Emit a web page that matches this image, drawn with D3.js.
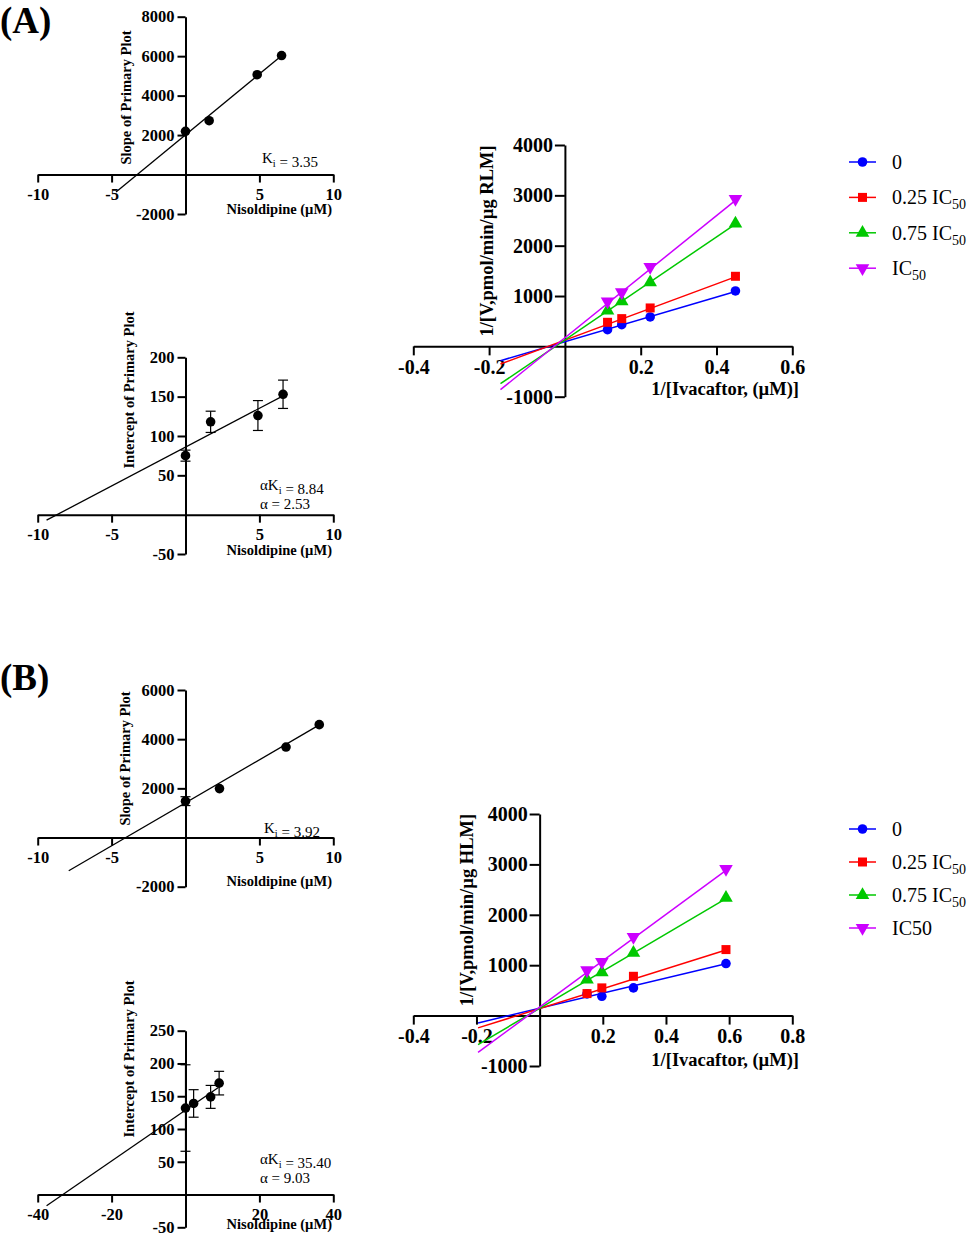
<!DOCTYPE html>
<html>
<head>
  <script src="https://d3js.org/d3.v7.min.js"></script>
  <style>
    body { margin: 0; background: #fff; }
    text { font-family: "Liberation Serif", "Times New Roman", serif; fill: #000; }
    .bold { font-weight: bold; }
  </style>
</head>
<body>
<div id="chart"></div>
<script>
/*
DATA
*/
// (A) secondary plots, RLM
const slopeA_x = [0, 1.6, 4.85, 6.5];
const slopeA_y = [2190, 2730, 5060, 6030];
const slopeA_fit = [[-4.7, -880], [6.6, 6080]];

const intA_x = [0, 1.7, 4.9, 6.6];
const intA_y = [75, 118, 126, 153];
const intA_err = [7, 13.5, 19, 18];
const intA_fit = [[-9.4, -7], [6.6, 151]];

// (B) secondary plots, HLM
const slopeB_x = [0, 2.3, 6.8, 9.05];
const slopeB_y = [1480, 1990, 3680, 4590];
const slopeB_err = [180, 0, 0, 0];
const slopeB_fit = [[-7.9, -1350], [9.2, 4630]];

const intB_x = [0, 2.2, 6.8, 9.1];
const intB_y = [132, 139, 149, 170];
const intB_err = [66, 21, 17.5, 18];
const intB_fit = [[-37.6, -17], [8.8, 163]];

// (A) Lineweaver-Burk, RLM
const lbA_x = [0.1125, 0.15, 0.225, 0.45];
const lbA_0 = [332, 431, 584, 1100];
const lbA_025 = [478, 551, 763, 1392];
const lbA_075 = [710, 895, 1272, 2440];
const lbA_1 = [895, 1074, 1579, 2930];
const lbA_fitX = [-0.17, 0.45];
const lbA_fit0 = [-284, 1090];
const lbA_fit025 = [-350, 1380];
const lbA_fit075 = [-742, 2430];
const lbA_fit1 = [-861, 2900];

// (B) Lineweaver-Burk, HLM
const lbB_x = [0.15, 0.197, 0.297, 0.59];
const lbB_0 = [430, 383, 550, 1032];
const lbB_025 = [437, 550, 780, 1310];
const lbB_075 = [714, 860, 1244, 2335];
const lbB_1 = [899, 1065, 1560, 2910];
const lbB_fitX = [-0.195, 0.59];
const lbB_fit0 = [-145, 1030];
const lbB_fit025 = [-244, 1300];
const lbB_fit075 = [-575, 2320];
const lbB_fit1 = [-728, 2880];

// legend labels [text, subscript]
const legendA = [["0", ""], ["0.25 IC", "50"], ["0.75 IC", "50"], ["IC", "50"]];
const legendB = [["0", ""], ["0.25 IC", "50"], ["0.75 IC", "50"], ["IC50", ""]];

// tick values
const ticksX10 = [-10, -5, 5, 10];
const ticksX40 = [-40, -20, 20, 40];
const ticksSlopeA_y = [-2000, 2000, 4000, 6000, 8000];
const ticksIntA_y = [-50, 50, 100, 150, 200];
const ticksSlopeB_y = [-2000, 2000, 4000, 6000];
const ticksIntB_y = [-50, 50, 100, 150, 200, 250];
const ticksLbA_x = [-0.4, -0.2, 0.2, 0.4, 0.6];
const ticksLbB_x = [-0.4, -0.2, 0.2, 0.4, 0.6, 0.8];
const ticksLb_y = [-1000, 1000, 2000, 3000, 4000];

/*
SVG CANVAS
*/
const width = 969, height = 1236;
const svg = d3.select("#chart").append("svg")
  .attr("width", width)
  .attr("height", height);

const colors = ["#0000ff", "#ff0000", "#00c800", "#cc00ff"];
const symbols = [d3.symbolCircle, d3.symbolSquare, d3.symbolTriangle, d3.symbolTriangle];
const symSizes = [72, 81, 80, 80];
const symRot = [0, 0, 0, 180];

function drawAxes(g, x, y, xt, yt, o) {
  const fmt = d => String(d);
  const xa = g.append("g")
    .attr("transform", `translate(0,${y(0)})`)
    .call(d3.axisBottom(x).tickValues(xt).tickFormat(fmt)
      .tickSize(o.xTick).tickSizeOuter(0).tickPadding(o.xPad));
  const ya = g.append("g")
    .attr("transform", `translate(${x(0)},0)`)
    .call(d3.axisLeft(y).tickValues(yt).tickFormat(fmt)
      .tickSize(o.yTick).tickSizeOuter(0).tickPadding(o.yPad));
  [xa, ya].forEach(a => {
    a.attr("font-size", o.font).attr("class", "bold");
    a.selectAll("path, line").attr("stroke", "#000").attr("stroke-width", 2);
  });
}

function subText(g, x, y, parts, size, weight) {
  // parts: [[text, isSub], ...]
  const t = g.append("text").attr("x", x).attr("y", y)
    .attr("font-size", size).attr("font-weight", weight || "normal");
  parts.forEach(p => {
    if (p[1]) {
      t.append("tspan").attr("font-size", size * 0.7).attr("dy", size * 0.25).text(p[0]);
      t.append("tspan").attr("dy", -size * 0.25).text("");
    } else {
      t.append("tspan").text(p[0]);
    }
  });
  return t;
}

/*
SECONDARY PLOTS
*/
function smallPlot(c) {
  const g = svg.append("g");
  const x = d3.scaleLinear().domain(c.xDomain).range([37.7, 333.3]);
  const y = d3.scaleLinear().domain(c.yDomain).range(c.yRange);

  drawAxes(g, x, y, c.xTicks, c.yTicks, {xTick: 8, xPad: 6, yTick: 8, yPad: 3, font: 16.5});

  g.append("line")
    .attr("x1", x(c.fit[0][0])).attr("y1", y(c.fit[0][1]))
    .attr("x2", x(c.fit[1][0])).attr("y2", y(c.fit[1][1]))
    .attr("stroke", "#000").attr("stroke-width", 1.3);

  if (c.err) {
    c.xs.forEach((xv, i) => {
      const e = c.err[i];
      if (!e) return;
      const top = y(c.ys[i] + e), bot = y(c.ys[i] - e);
      g.append("line").attr("x1", x(xv)).attr("x2", x(xv)).attr("y1", top).attr("y2", bot)
        .attr("stroke", "#000").attr("stroke-width", 1.2);
      [top, bot].forEach(yy => g.append("line")
        .attr("x1", x(xv) - 5).attr("x2", x(xv) + 5).attr("y1", yy).attr("y2", yy)
        .attr("stroke", "#000").attr("stroke-width", 1.2));
    });
  }

  g.selectAll("circle.pt")
    .data(c.xs.map((xv, i) => [xv, c.ys[i]]))
    .enter().append("circle")
      .attr("cx", d => x(d[0]))
      .attr("cy", d => y(d[1]))
      .attr("r", 4.8)
      .attr("fill", "#000");

  g.append("text").attr("class", "bold")
    .attr("x", 332).attr("y", c.xTitleY)
    .attr("text-anchor", "end").attr("font-size", 14.5)
    .text("Nisoldipine (\u00b5M)");

  g.append("text").attr("class", "bold")
    .attr("transform", `translate(${c.yTitleX},${c.yTitleY}) rotate(-90)`)
    .attr("text-anchor", "middle").attr("font-size", 14.5)
    .text(c.yTitle);

  c.notes.forEach(n => subText(g, n.x, n.y, n.parts, 15));
}

smallPlot({
  xDomain: [-10, 10], yDomain: [-2000, 8000], yRange: [214, 16.7],
  xTicks: ticksX10, yTicks: ticksSlopeA_y,
  xs: slopeA_x, ys: slopeA_y, fit: slopeA_fit,
  yTitle: "Slope of Primary Plot", yTitleX: 131, yTitleY: 97.5, xTitleY: 214,
  notes: [{x: 262, y: 163, parts: [["K", 0], ["i", 1], [" = 3.35", 0]]}]
});

smallPlot({
  xDomain: [-10, 10], yDomain: [-50, 200], yRange: [554, 357.3],
  xTicks: ticksX10, yTicks: ticksIntA_y,
  xs: intA_x, ys: intA_y, err: intA_err, fit: intA_fit,
  yTitle: "Intercept of Primary Plot", yTitleX: 134, yTitleY: 390, xTitleY: 555,
  notes: [{x: 260, y: 490, parts: [["\u03b1K", 0], ["i", 1], [" = 8.84", 0]]},
          {x: 260, y: 509, parts: [["\u03b1 = 2.53", 0]]}]
});

smallPlot({
  xDomain: [-10, 10], yDomain: [-2000, 6000], yRange: [886.7, 690],
  xTicks: ticksX10, yTicks: ticksSlopeB_y,
  xs: slopeB_x, ys: slopeB_y, err: slopeB_err, fit: slopeB_fit,
  yTitle: "Slope of Primary Plot", yTitleX: 130, yTitleY: 758.5, xTitleY: 885.5,
  notes: [{x: 264, y: 833, parts: [["K", 0], ["i", 1], [" = 3.92", 0]]}]
});

smallPlot({
  xDomain: [-40, 40], yDomain: [-50, 250], yRange: [1227.3, 1030.7],
  xTicks: ticksX40, yTicks: ticksIntB_y,
  xs: intB_x, ys: intB_y, err: intB_err, fit: intB_fit,
  yTitle: "Intercept of Primary Plot", yTitleX: 134, yTitleY: 1059, xTitleY: 1229,
  notes: [{x: 260, y: 1164, parts: [["\u03b1K", 0], ["i", 1], [" = 35.40", 0]]},
          {x: 260, y: 1183, parts: [["\u03b1 = 9.03", 0]]}]
});

/*
LINEWEAVER-BURK PLOTS
*/
function lbPlot(c) {
  const g = svg.append("g");
  const x = d3.scaleLinear().domain(c.xDomain).range([413.3, 792.3]);
  const y = d3.scaleLinear().domain([-1000, 4000]).range(c.yRange);

  drawAxes(g, x, y, c.xTicks, ticksLb_y, {xTick: 9, xPad: 4, yTick: 10, yPad: 2, font: 20});

  c.series.forEach((s, k) => {
    g.append("line")
      .attr("x1", x(c.fitX[0])).attr("y1", y(c.fits[k][0]))
      .attr("x2", x(c.fitX[1])).attr("y2", y(c.fits[k][1]))
      .attr("stroke", colors[k]).attr("stroke-width", 1.5);
  });
  c.series.forEach((s, k) => {
    g.selectAll(null)
      .data(c.xs.map((xv, i) => [xv, s[i]]))
      .enter().append("path")
        .attr("d", d3.symbol().type(symbols[k]).size(symSizes[k]))
        .attr("transform", d => `translate(${x(d[0])},${y(d[1])}) rotate(${symRot[k]})`)
        .attr("fill", colors[k]);
  });

  g.append("text").attr("class", "bold")
    .attr("x", 799).attr("y", c.xTitleY)
    .attr("text-anchor", "end").attr("font-size", 18.5)
    .text("1/[Ivacaftor, (\u00b5M)]");

  g.append("text").attr("class", "bold")
    .attr("transform", `translate(${c.yTitleX},${c.yTitleY}) rotate(-90)`)
    .attr("text-anchor", "middle").attr("font-size", 18.5)
    .text(c.yTitle);

  // legend
  c.legend.forEach((lab, k) => {
    const ly = c.legendY + k * c.legendStep;
    g.append("line").attr("x1", 849).attr("x2", 876).attr("y1", ly).attr("y2", ly)
      .attr("stroke", colors[k]).attr("stroke-width", 1.5);
    g.append("path")
      .attr("d", d3.symbol().type(symbols[k]).size(symSizes[k]))
      .attr("transform", `translate(862.5,${ly}) rotate(${symRot[k]})`)
      .attr("fill", colors[k]);
    subText(g, 892, ly + 7, [[lab[0], 0], [lab[1], 1]], 20);
  });
}

lbPlot({
  xDomain: [-0.4, 0.6], yRange: [396.7, 145], xTicks: ticksLbA_x,
  xs: lbA_x, series: [lbA_0, lbA_025, lbA_075, lbA_1],
  fitX: lbA_fitX, fits: [lbA_fit0, lbA_fit025, lbA_fit075, lbA_fit1],
  yTitle: "1/[V,pmol/min/\u00b5g RLM]", yTitleX: 493, yTitleY: 241, xTitleY: 395,
  legend: legendA, legendY: 162, legendStep: 35.4
});

lbPlot({
  xDomain: [-0.4, 0.8], yRange: [1066, 814], xTicks: ticksLbB_x,
  xs: lbB_x, series: [lbB_0, lbB_025, lbB_075, lbB_1],
  fitX: lbB_fitX, fits: [lbB_fit0, lbB_fit025, lbB_fit075, lbB_fit1],
  yTitle: "1/[V,pmol/min/\u00b5g HLM]", yTitleX: 473, yTitleY: 910, xTitleY: 1066,
  legend: legendB, legendY: 829, legendStep: 33
});

/*
PANEL LETTERS
*/
svg.append("text").attr("class", "bold").attr("x", 0).attr("y", 33)
  .attr("font-size", 37).text("(A)");
svg.append("text").attr("class", "bold").attr("x", 0).attr("y", 690)
  .attr("font-size", 37).text("(B)");
</script>
</body>
</html>
